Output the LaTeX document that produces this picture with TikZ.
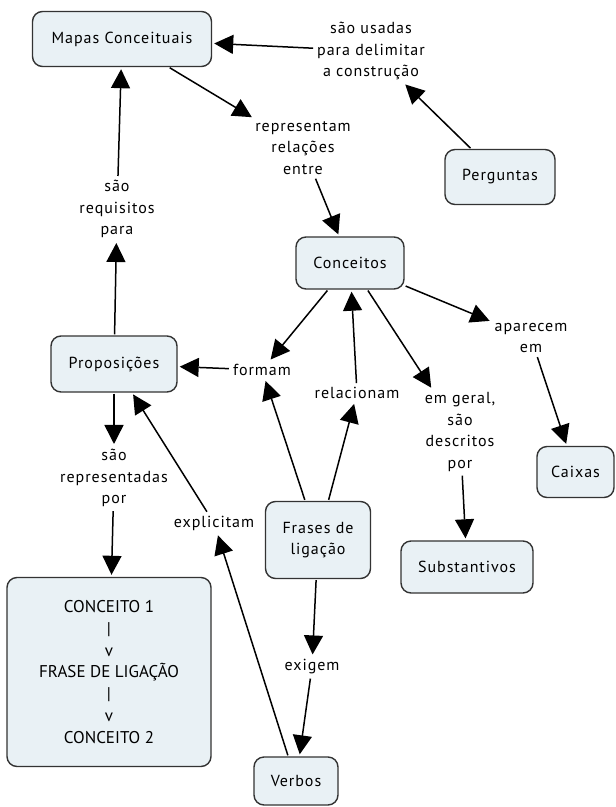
\documentclass[tikz,border=0pt]{standalone}
\usepackage{fontspec}
\setmainfont[LetterSpace=6]{PT Sans}
\newfontfamily\boxfont{PT Sans}
\usetikzlibrary{arrows.meta}
\definecolor{boxfill}{HTML}{E9F1F5}
\definecolor{boxline}{HTML}{333333}
\begin{document}
\begin{tikzpicture}[x=1pt,y=-1pt,
  concept/.style={draw=boxline, fill=boxfill, line width=1.4pt, rounded corners=10pt, align=center, font=\fontsize{16}{21.5}\selectfont},
  link/.style={align=center, font=\fontsize{16}{21.5}\selectfont, inner sep=3pt},
  arr/.style={-{Triangle[length=19pt,width=19pt]}, line width=1.5pt, draw=black, shorten >=2pt, shorten <=1pt}]
\path[use as bounding box, fill=white] (0,0) rectangle (616,807);

\node[concept, minimum width=179pt, minimum height=55pt] (mapas) at (122,39) {Mapas Conceituais};
\node[link] (usadas) at (371,51) {são usadas\\para delimitar\\a construção};
\node[concept, minimum width=110pt, minimum height=55pt] (perg) at (500,177) {Perguntas};
\node[link] (rep) at (303,148) {representam\\relações\\entre};
\node[concept, minimum width=108pt, minimum height=52pt] (conc) at (350,263) {Conceitos};
\node[link] (aparecem) at (531,338) {aparecem\\em};
\node[concept, minimum width=77pt, minimum height=51pt] (caixas) at (575.5,472) {Caixas};
\node[link] (formam) at (262,370) {formam};
\node[concept, minimum width=126pt, minimum height=56pt] (prop) at (114,364) {Proposições};
\node[link] (requisitos) at (117,209) {são\\requisitos\\para};
\node[link] (reprpor) at (114,478) {são\\representadas\\por};
\node[concept, minimum width=204pt, minimum height=189pt, font=\boxfont\fontsize{17}{21.7}\selectfont] (exemplo) at (109,672) {CONCEITO 1\\|\\v\\FRASE DE LIGAÇÃO\\|\\v\\CONCEITO 2};
\node[link] (explicitam) at (214,523) {explicitam};
\node[concept, minimum width=105pt, minimum height=77pt] (frases) at (318,540) {Frases de\\ligação};
\node[link] (relacionam) at (357,393) {relacionam};
\node[link] (emgeral) at (460,432) {em geral,\\são\\descritos\\por};
\node[concept, minimum width=132pt, minimum height=52pt] (subst) at (467,567) {Substantivos};
\node[link] (exigem) at (312,667) {exigem};
\node[concept, minimum width=84pt, minimum height=48pt] (verbos) at (296,781) {Verbos};

\draw[arr] (usadas) -- (mapas);
\draw[arr] (perg) -- (usadas);
\draw[arr] (mapas) -- (rep);
\draw[arr] (rep) -- (conc);
\draw[arr] (conc) -- (aparecem);
\draw[arr] (aparecem) -- (caixas);
\draw[arr] (conc) -- (formam);
\draw[arr] (formam) -- (prop);
\draw[arr] (prop) -- (requisitos);
\draw[arr] (requisitos) -- (mapas);
\draw[arr] (prop) -- (reprpor);
\draw[arr] (reprpor) -- (exemplo);
\draw[arr] (frases) -- (formam);
\draw[arr] (frases) -- (relacionam);
\draw[arr] (relacionam) -- (conc);
\draw[arr] (conc) -- (emgeral);
\draw[arr] (emgeral) -- (subst);
\draw[arr] (frases) -- (exigem);
\draw[arr] (exigem) -- (verbos);
\draw[arr] (verbos) -- (explicitam);
\draw[arr] (explicitam) -- (prop);
\end{tikzpicture}
\end{document}
